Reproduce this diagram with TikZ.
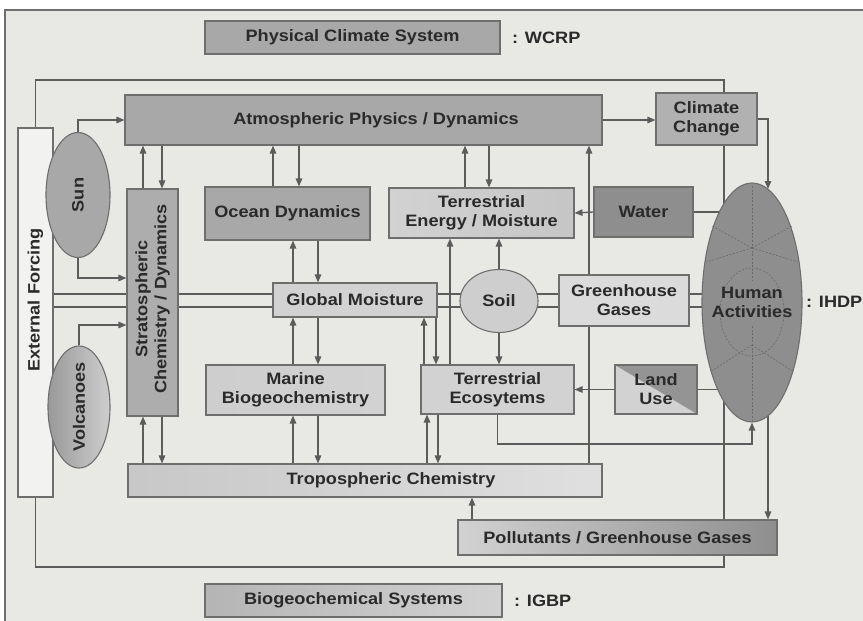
\documentclass[tikz,border=0pt]{standalone}
\usepackage{fontspec}
\setmainfont{Liberation Sans}[FakeStretch=1.1]
\usetikzlibrary{arrows.meta,shapes.geometric}
\pgfdeclarelayer{back}
\pgfdeclarelayer{bg}
\pgfsetlayers{back,bg,main}
\definecolor{bgc}{HTML}{E8E8E5}
\definecolor{edge}{HTML}{6E6E6E}
\definecolor{lin}{HTML}{5C5C5C}
\definecolor{txt}{HTML}{2A2A2A}
\definecolor{cMid}{HTML}{A8A8A8}
\definecolor{cStrat}{HTML}{ADADAD}
\definecolor{cLt}{HTML}{D2D2D2}
\definecolor{cDk}{HTML}{8E8E8E}
\definecolor{cExt}{HTML}{F2F2F0}
\definecolor{patc}{HTML}{6A6A6A}
\begin{document}
\begin{tikzpicture}[x=1pt,y=-1pt,
  lbl/.style={font=\bfseries\fontsize{16.5}{19}\selectfont, text=txt, align=center, inner sep=0pt},
  box/.style={draw=edge, line width=1.1pt, rectangle, inner sep=0pt, lbl},
  oval/.style={draw=edge, line width=1.1pt, ellipse, inner sep=0pt},
  conn/.style={draw=lin, line width=1.3pt},
  arr/.style={conn, -{Triangle[length=8pt,width=6.5pt]}},
  pat/.style={draw=patc, line width=0.6pt, dash pattern=on 2pt off 1.6pt}
]
\useasboundingbox (0,0) rectangle (863,621);
\begin{pgfonlayer}{back}
\fill[white] (0,0) rectangle (863,621);
\fill[bgc] (5,10) rectangle (863,621);
\draw[edge, line width=1.2pt] (5,621) -- (5,10) -- (863,10);
\end{pgfonlayer}

% legend boxes
\node[box, fill=cMid, minimum width=295pt, minimum height=33pt] (pcs) at (352.5,37.5) {Physical Climate System};
\node[lbl, anchor=west] (wcrp) at (512,37.5) {: WCRP};
\node[box, left color=cMid!70!cLt, right color=cLt, minimum width=297pt, minimum height=33pt] (bgs) at (353.5,600.5) {Biogeochemical Systems};
\node[lbl, anchor=west] (igbp) at (514,600.5) {: IGBP};

% main boxes
\node[box, fill=cExt, minimum width=35pt, minimum height=369pt] (ext) at (35.5,312.5) {};
\node[lbl, rotate=90] (extt) at (35.5,300) {External Forcing};
\node[oval, fill=cMid, minimum width=64pt, minimum height=125pt] (sun) at (78,195) {};
\node[lbl, rotate=90] (sunt) at (sun.center) {Sun};
\node[oval, left color=cDk!90, right color=cLt!90!cMid, minimum width=62pt, minimum height=122pt] (vol) at (79,407) {};
\node[lbl, rotate=90] (volt) at (vol.center) {Volcanoes};
\node[box, fill=cMid, minimum width=477pt, minimum height=50pt] (atm) at (363.5,120) {};
\node[lbl] (atmt) at (376,120) {Atmospheric Physics / Dynamics};
\node[box, fill=cMid!90!white, minimum width=101pt, minimum height=52pt] (cc) at (706.5,119) {Climate\\Change};
\node[box, fill=cStrat, minimum width=51pt, minimum height=227pt] (strat) at (152.5,302.5) {};
\node[lbl, rotate=90] (stratt) at (152.5,299) {Stratospheric\\Chemistry / Dynamics};
\node[box, fill=cMid, minimum width=165pt, minimum height=53pt] (ocean) at (287.5,213.5) {Ocean Dynamics};
\node[box, fill=cLt, minimum width=164pt, minimum height=34pt] (glob) at (355,300) {Global Moisture};
\node[box, left color=cLt!90!cMid, right color=cLt, minimum width=179pt, minimum height=50pt] (marine) at (295.5,390) {Marine\\Biogeochemistry};
\node[box, left color=cLt!75!cMid, right color=cLt!70!white, minimum width=474pt, minimum height=33pt] (tropo) at (365,480.5) {};
\node[lbl] (tropot) at (391,480.5) {Tropospheric Chemistry};
\node[box, left color=cLt, right color=cLt!70!cMid, minimum width=185pt, minimum height=50pt] (tem) at (481.5,213) {Terrestrial\\Energy / Moisture};
\node[box, fill=cDk, minimum width=99pt, minimum height=50pt] (water) at (643.5,212) {Water};
\node[oval, fill=cLt!90!cMid, minimum width=78pt, minimum height=63pt, lbl] (soil) at (499,301) {Soil};
\node[box, fill=cLt!80!white, minimum width=130pt, minimum height=51pt] (ghg) at (624,300.5) {Greenhouse\\Gases};
\node[box, fill=cLt, minimum width=153pt, minimum height=49pt] (teco) at (497.5,389.5) {Terrestrial\\Ecosytems};
\node[box, fill=cLt, minimum width=82pt, minimum height=49pt,
  path picture={\fill[cDk!95] (path picture bounding box.north west) -- (path picture bounding box.north east) -- (path picture bounding box.south east) -- cycle;}] (land) at (656,389.5) {Land\\Use};
\node[box, left color=cLt, middle color=cLt!60!cMid, right color=cDk, minimum width=319pt, minimum height=35pt] (poll) at (617.5,537.5) {Pollutants / Greenhouse Gases};

% human activities
\node[oval, fill=cDk, minimum width=100pt, minimum height=239pt] (human) at (752,302.5) {};
\draw[pat] (752,186) -- (752,280);
\draw[pat] (752,326) -- (752,420);
\draw[pat] (752,248) -- (712,226);
\draw[pat] (752,248) -- (792,226);
\draw[pat] (752,248) -- (706,262);
\draw[pat] (752,248) -- (798,262);
\draw[pat] (752,312) ellipse (32pt and 44pt);
\draw[pat] (752,345) -- (710,372);
\draw[pat] (752,345) -- (794,372);
\node[lbl] (humant) at (human.center) {Human\\Activities};
\node[lbl, anchor=west] (ihdp) at (806,302) {: IHDP};

\coordinate (loopTR) at (724,80);
\coordinate (loopBR) at (724,567);
\coordinate (hTop) at (768,189);
\coordinate (hBot) at (752,444);

\begin{pgfonlayer}{bg}
\draw[conn] (ext.north) |- (loopTR) -- (loopBR) -| (ext.south);
\draw[arr] (sun.north) |- (atm.west);
\draw[arr] (sun.south) |- (strat.west |- 0,278);
\draw[arr] (vol.north) |- (strat.west |- 0,325);
% double lines
\draw[conn] (ext.east |- 0,294) -- (human.center |- 0,294);
\draw[conn] (ext.east |- 0,307) -- (human.center |- 0,307);
% atm - strat - tropo
\draw[arr] (strat.north -| 143,0) -- (atm.south -| 143,0);
\draw[arr] (atm.south -| 162,0) -- (strat.north -| 162,0);
\draw[arr] (tropo.north -| 143,0) -- (strat.south -| 143,0);
\draw[arr] (strat.south -| 162,0) -- (tropo.north -| 162,0);
% ocean column
\draw[arr] (ocean.north -| 273,0) -- (atm.south -| 273,0);
\draw[arr] (atm.south -| 299,0) -- (ocean.north -| 299,0);
\draw[arr] (glob.north -| 293,0) -- (ocean.south -| 293,0);
\draw[arr] (ocean.south -| 318,0) -- (glob.north -| 318,0);
\draw[arr] (marine.north -| 293,0) -- (glob.south -| 293,0);
\draw[arr] (glob.south -| 318,0) -- (marine.north -| 318,0);
\draw[arr] (tropo.north -| 293,0) -- (marine.south -| 293,0);
\draw[arr] (marine.south -| 318,0) -- (tropo.north -| 318,0);
% terrestrial column
\draw[arr] (tem.north -| 465,0) -- (atm.south -| 465,0);
\draw[arr] (atm.south -| 489,0) -- (tem.north -| 489,0);
\draw[arr] (soil.north) -- (tem.south -| soil.north);
\draw[arr] (soil.south) -- (teco.north -| soil.south);
\draw[arr] (teco.north -| 424,0) -- (glob.south -| 424,0);
\draw[arr] (glob.south -| 436,0) -- (teco.north -| 436,0);
\draw[arr] (teco.north -| 450,0) -- (tem.south -| 450,0);
\draw[arr] (tropo.north -| 427,0) -- (teco.south -| 427,0);
\draw[arr] (teco.south -| 438,0) -- (tropo.north -| 438,0);
% right side
\draw[arr] (water.west) -- (tem.east);
\draw[conn] (water.east) -- (human.center |- water.east);
\draw[arr] (tropo.north -| 589,0) -- (atm.south -| 589,0);
\draw[arr] (land.west) -- (teco.east);
\draw[conn] (land.east) -- (human.center |- land.east);
\draw[arr] (atm.east) -- (cc.west |- atm.east);
\draw[arr] (cc.east) -| (hTop);
\draw[arr] (teco.south) |- (hBot) -- (human.south);
\draw[arr] (human.center -| 768,0) -- (poll.north -| 768,0);
\draw[arr] (poll.north -| 472,0) -- (tropo.south -| 472,0);
\end{pgfonlayer}
\end{tikzpicture}
\end{document}
